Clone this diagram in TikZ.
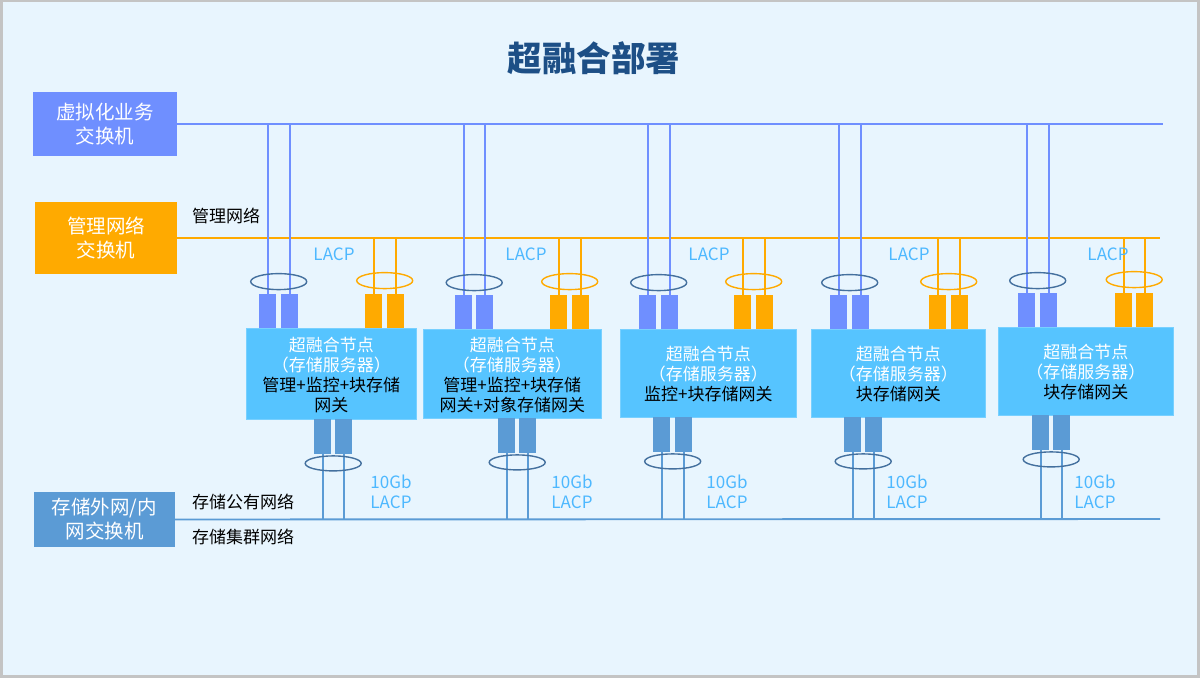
\documentclass[tikz,border=0pt]{standalone}
\usepackage{fontspec}
\setmainfont{Noto Sans CJK SC}
\usetikzlibrary{calc}
\definecolor{bgc}{HTML}{E8F5FE}
\definecolor{frame}{HTML}{C4C4C4}
\definecolor{vblue}{HTML}{6F8FFF}
\definecolor{morange}{HTML}{FFAA00}
\definecolor{sblue}{HTML}{5B9BD5}
\definecolor{nodeblue}{HTML}{56C4FF}
\definecolor{lacpc}{HTML}{4DB8FF}
\definecolor{ellc}{HTML}{44709E}
\definecolor{titlec}{HTML}{1D4F86}
\tikzset{
  switchbox/.style={inner sep=0pt, align=center, text=white, font=\fontsize{19.5}{24}\selectfont},
  hcbox/.style={fill=nodeblue, draw=nodeblue!80!white, line width=0.6pt, inner sep=0pt, anchor=north west},
  hctext/.style={align=center, text=black, font=\fontsize{17}{20}\selectfont, inner sep=0pt},
  vport/.style={fill=vblue, inner sep=0pt, minimum width=17pt, minimum height=34pt, anchor=south west},
  oport/.style={fill=morange, inner sep=0pt, minimum width=17pt, minimum height=34pt, anchor=south west},
  sport/.style={fill=sblue, inner sep=0pt, minimum width=17pt, minimum height=35pt, anchor=north west},
  vline/.style={draw=vblue, line width=1.9pt},
  oline/.style={draw=morange, line width=1.9pt},
  sline/.style={draw=sblue, line width=1.9pt},
  bell/.style={draw=ellc, line width=1.4pt},
  oell/.style={draw=morange, line width=1.4pt},
  lacplbl/.style={text=lacpc, font=\fontsize{17}{20}\selectfont, inner sep=0pt, align=left},
  netlbl/.style={text=black, font=\fontsize{17}{20}\selectfont, inner sep=0pt, anchor=west},
}
\begin{document}
\begin{tikzpicture}[x=1pt,y=-1pt]
\fill[frame] (0,0) rectangle (1200,678);
\fill[bgc] (3,2) rectangle (1197,675);
\useasboundingbox (0,0) rectangle (1200,678);

\node[text=titlec, font=\bfseries\fontsize{34.5}{40}\selectfont, inner sep=0pt] (title) at (594,58) {超融合部署};

\node[switchbox, fill=vblue, minimum width=144pt, minimum height=64pt] (vsw) at (105,124) {虚拟化业务\\交换机};
\node[switchbox, fill=morange, minimum width=142pt, minimum height=72pt] (msw) at (106,238) {管理网络\\交换机};
\node[switchbox, fill=sblue, minimum width=141pt, minimum height=55pt] (ssw) at (104.5,519.5) {存储外网/内\\网交换机};

\coordinate (vbusE) at (1163,124);
\coordinate (mbusE) at (1160,238);
\coordinate (sbusE) at (1160,519);
\draw[vline] (vsw.east) -- (vbusE);
\draw[oline] (msw.east) -- (mbusE);
\draw[sline] (ssw.east) -- (sbusE);

\node[netlbl] (mlbl) at (192,216) {管理网络};
\node[netlbl] (slbl1) at (192,502) {存储公有网络};
\node[netlbl] (slbl2) at (192,537) {存储集群网络};

\foreach \i/\L/\R/\T/\B/\ba/\bb/\oa/\ob/\sa/\sb/\lx/\gx/\txt in {
  1/246/416/328/419/259/281/365/387/314/335/334/391/{\textcolor{white}{超融合节点}\\\textcolor{white}{（存储服务器）}\\管理+监控+块存储\\网关},
  2/423/601/329/418/455/476/550/572/498/519/526/572/{\textcolor{white}{超融合节点}\\\textcolor{white}{（存储服务器）}\\管理+监控+块存储\\网关+对象存储网关},
  3/620/796/329/417/639/661/734/756/653/675/709/727/{\textcolor{white}{超融合节点}\\\textcolor{white}{（存储服务器）}\\监控+块存储网关},
  4/811/985/329/417/830/852/929/951/844/865/909/907/{\textcolor{white}{超融合节点}\\\textcolor{white}{（存储服务器）}\\块存储网关},
  5/998/1173/327/415/1018/1040/1115/1136/1032/1053/1108/1095/{\textcolor{white}{超融合节点}\\\textcolor{white}{（存储服务器）}\\块存储网关}}
{
  % upper links
  \node[vport] (vpa\i) at (\ba,\T) {};
  \node[vport] (vpb\i) at (\bb,\T) {};
  \node[oport] (opa\i) at (\oa,\T) {};
  \node[oport] (opb\i) at (\ob,\T) {};
  \draw[vline] (vpa\i.north) -- (vpa\i.north |- vbusE);
  \draw[vline] (vpb\i.north) -- (vpb\i.north |- vbusE);
  \draw[oline] (opa\i.north) -- (opa\i.north |- mbusE);
  \draw[oline] (opb\i.north) -- (opb\i.north |- mbusE);
  \draw[bell] ($(vpa\i.north)!0.5!(vpb\i.north)+(0,-12)$) ellipse [x radius=28pt, y radius=8pt];
  \draw[oell] ($(opa\i.north)!0.5!(opb\i.north)+(0,-13)$) ellipse [x radius=28pt, y radius=8pt];
  \node[lacplbl] (lacp\i) at (\lx,254) {LACP};
  % box
  \node[hcbox, minimum width={\R pt-\L pt}, minimum height={\B pt-\T pt}] (hc\i) at (\L,\T) {};
  \node[hctext] (hct\i) at ($(hc\i.center)+(0,1)$) {\txt};
  % lower links
  \node[sport] (spa\i) at (\sa,\B) {};
  \node[sport] (spb\i) at (\sb,\B) {};
  \draw[sline] (spa\i.south) -- (spa\i.south |- sbusE);
  \draw[sline] (spb\i.south) -- (spb\i.south |- sbusE);
  \draw[bell] ($(spa\i.south)!0.5!(spb\i.south)+(0,9)$) ellipse [x radius=28pt, y radius=7.5pt];
  \node[lacplbl] (gb\i) at (\gx,491.5) {10Gb\\LACP};
}
\end{tikzpicture}
\end{document}
